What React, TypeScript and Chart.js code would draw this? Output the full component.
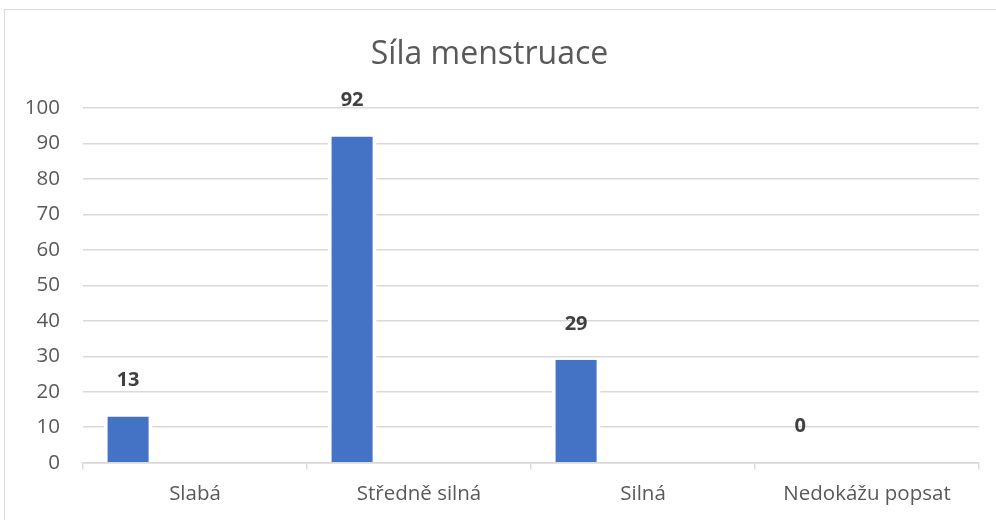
import React, { useEffect, useRef } from "react";
import { Chart, registerables } from "chart.js";

Chart.register(...registerables);

const categories = ["Slabá", "Středně silná", "Silná", "Nedokážu popsat"];
const values = [13, 92, 29, 0];
const emptySeries = [null, null, null, null];
const yTicks = [0, 10, 20, 30, 40, 50, 60, 70, 80, 90, 100];
const titleText = "Síla menstruace";

const FONT = "'Open Sans', 'Noto Sans', sans-serif";

const dataLabelPlugin = {
  id: "dataLabels",
  afterDatasetsDraw(chart: any) {
    const ctx = chart.ctx;
    const meta = chart.getDatasetMeta(0);
    ctx.save();
    ctx.font = `bold 20px ${FONT}`;
    ctx.fillStyle = "#404040";
    ctx.textAlign = "center";
    ctx.textBaseline = "middle";
    meta.data.forEach((el: any, i: number) => {
      const v = chart.data.datasets[0].data[i];
      ctx.fillText(String(v), el.x, el.y - 36);
    });
    ctx.restore();
  },
};

export default function App() {
  const ref = useRef<HTMLCanvasElement | null>(null);

  useEffect(() => {
    if (!ref.current) return;
    const barCommon = {
      backgroundColor: "#4472C4",
      borderColor: "#ffffff",
      borderWidth: { left: 4, right: 4, top: 0, bottom: 0 },
      borderSkipped: false,
      categoryPercentage: 0.896,
      barPercentage: 0.7325,
    };
    const chart = new Chart(ref.current, {
      type: "bar",
      data: {
        labels: categories,
        datasets: [
          { label: "A", data: values, ...barCommon },
          { label: "B", data: emptySeries, ...barCommon },
          { label: "C", data: emptySeries, ...barCommon },
        ],
      },
      options: {
        animation: false,
        responsive: false,
        devicePixelRatio: 1,
        layout: { padding: { left: 0, right: 17, top: 0, bottom: 0 } },
        plugins: {
          legend: { display: false },
          tooltip: { enabled: false },
          title: {
            display: true,
            text: titleText,
            color: "#595959",
            font: { family: FONT, size: 32, weight: "normal" },
            padding: { top: 36, bottom: 33.6 },
          },
        },
        scales: {
          x: {
            afterFit: (scale: any) => {
              scale.height = 57.3;
            },
            grid: {
              display: true,
              drawOnChartArea: false,
              drawTicks: true,
              tickLength: 7,
              color: "#d9d9d9",
              lineWidth: 1.5,
              offset: true,
            },
            border: { display: true, color: "#d9d9d9", width: 1.5 },
            ticks: {
              color: "#595959",
              font: { family: FONT, size: 20.5 },
              padding: 12,
              maxRotation: 0,
            },
          },
          y: {
            min: 0,
            max: 100,
            afterFit: (scale: any) => {
              scale.width = 83;
            },
            afterBuildTicks: (scale: any) => {
              scale.ticks = yTicks.map((v) => ({ value: v }));
            },
            grid: {
              color: "#d9d9d9",
              lineWidth: 1.5,
              drawTicks: false,
            },
            border: { display: false },
            ticks: {
              color: "#595959",
              font: { family: FONT, size: 20.5 },
              padding: 23,
            },
          },
        },
      },
      plugins: [dataLabelPlugin],
    } as any);
    return () => chart.destroy();
  }, []);

  return (
    <div
      style={{
        position: "fixed",
        left: 0,
        top: 0,
        width: 996,
        height: 520,
        background: "#ffffff",
        overflow: "hidden",
      }}
    >
      <div
        style={{
          position: "absolute",
          left: 4,
          top: 9,
          width: 1100,
          height: 600,
          borderLeft: "1px solid #d9d9d9",
          borderTop: "1px solid #d9d9d9",
        }}
      />
      <canvas
        ref={ref}
        width={996}
        height={520}
        style={{ position: "absolute", left: 0, top: 0, width: 996, height: 520 }}
      />
    </div>
  );
}
